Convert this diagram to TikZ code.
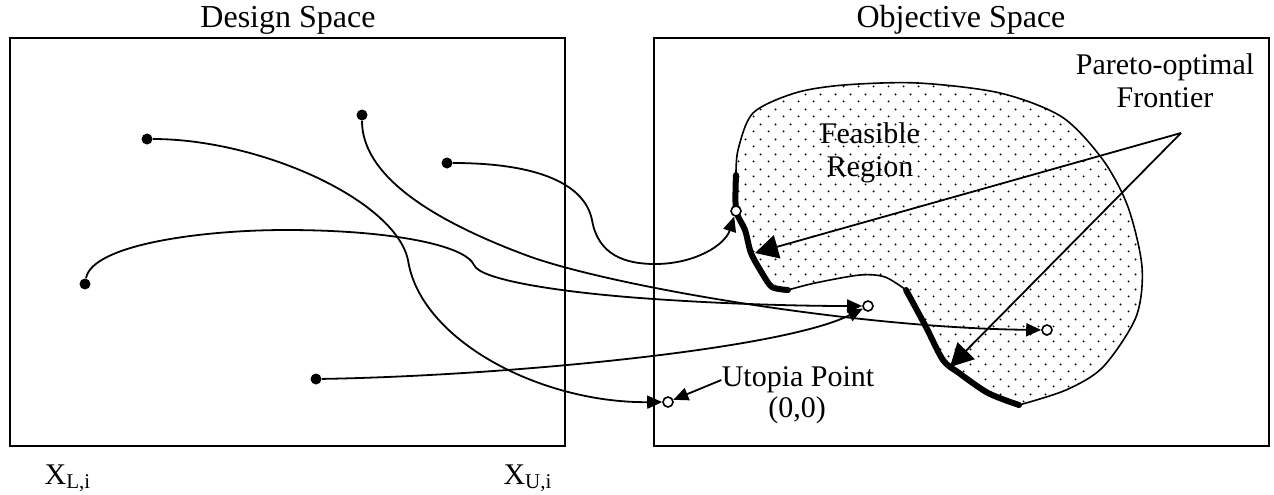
\documentclass[tikz,border=0pt]{standalone}
\usepackage{fontspec}
\setmainfont{Liberation Serif}
\usetikzlibrary{arrows.meta,patterns}
\pgfdeclarepatternformonly{feasdots}{\pgfqpoint{0pt}{0pt}}{\pgfqpoint{7.5pt}{7.5pt}}{\pgfqpoint{7.5pt}{7.5pt}}{%
  \pgfpathcircle{\pgfqpoint{1.9pt}{1.9pt}}{0.55pt}%
  \pgfpathcircle{\pgfqpoint{5.6pt}{5.6pt}}{0.55pt}%
  \pgfusepath{fill}}
\tikzset{
  >={Triangle[length=7.5pt,width=6.5pt]},
  spacebox/.style={draw, line width=1.2pt},
  lbl/.style={font=\fontsize{15}{16.5}\selectfont, align=center, inner sep=0pt},
  ttl/.style={font=\fontsize{16}{18}\selectfont, inner sep=0pt},
  dot/.style={circle, fill, inner sep=0pt, minimum size=5.5pt},
  hole/.style={circle, draw, fill=white, line width=0.8pt, inner sep=0pt, minimum size=5pt},
  flow/.style={->, line width=0.9pt},
  pareto/.style={-{Triangle[length=11.5pt,width=12pt]}, line width=0.9pt},
  front/.style={line width=3pt, line cap=round, line join=round},
  rim/.style={line width=0.8pt},
}

\begin{document}
\begin{tikzpicture}[x=0.5pt,y=-0.5pt]
  \useasboundingbox (0,0) rectangle (1274,494);

  % the two spaces
  \draw[spacebox] (10,38) rectangle (565,446);
  \draw[spacebox] (654,38) rectangle (1269,446);
  \node[ttl] (dsp) at (288,20) {Design Space};
  \node[ttl] (osp) at (961,20) {Objective Space};
  \node[lbl] (xl) at (68,478) {X\textsubscript{L,i}};
  \node[lbl] (xu) at (528,478) {X\textsubscript{U,i}};

  % feasible region
  \path[pattern=feasdots]
    plot[smooth] coordinates {(736,177) (738,150) (753,113) (795,93) (844,85) (918,83) (1000,93) (1062,117) (1103,160) (1128,207) (1142,267) (1136,317) (1103,367) (1066,390) (1019,405)}
    -- plot[smooth] coordinates {(1019,405) (988,393) (959,373) (943,360) (926,327) (906,290)}
    -- plot[smooth] coordinates {(906,290) (885,277) (860,275) (815,283) (788,290)}
    -- plot[smooth] coordinates {(788,290) (772,287) (762,273) (751,253) (745,230) (736,210) (736,177)} -- cycle;
  \draw[rim] plot[smooth] coordinates {(736,177) (738,150) (753,113) (795,93) (844,85) (918,83) (1000,93) (1062,117) (1103,160) (1128,207) (1142,267) (1136,317) (1103,367) (1066,390) (1019,405)};
  \draw[rim] plot[smooth] coordinates {(906,290) (885,277) (860,275) (815,283) (788,290)};
  \draw[front] plot[smooth] coordinates {(1019,405) (988,393) (959,373) (943,360) (926,327) (906,290)};
  \draw[front] plot[smooth] coordinates {(788,290) (772,287) (762,273) (751,253) (745,230) (736,210) (736,175)};
  \node[lbl] (feas) at (870,153) {Feasible\\Region};

  % design points and their images
  \node[dot] (d1) at (147,139) {};
  \node[dot] (d2) at (362,115) {};
  \node[dot] (d3) at (447,163) {};
  \node[dot] (d4) at (85,284) {};
  \node[dot] (d5) at (316,379) {};
  \node[hole] (o1) at (736,211) {};
  \node[hole] (o2) at (868,306) {};
  \node[hole] (o3) at (1047,330) {};
  \node[hole] (o4) at (668,402) {};

  \draw[flow] (d3) .. controls (540,163) and (585,185) .. (592,220)
    .. controls (598,255) and (625,264) .. (655,264)
    .. controls (695,264) and (725,245) .. (o1);
  \draw[flow] (d2) .. controls (362,175) and (430,220) .. (531,257)
    .. controls (620,288) and (860,328) .. (o3);
  \draw[flow] (d1) .. controls (260,139) and (395,200) .. (408,260)
    .. controls (420,340) and (540,403) .. (o4);
  \draw[flow] (d5) .. controls (500,376) and (780,350) .. (o2);
  \draw[flow] (d4) .. controls (92,245) and (200,230) .. (286,230)
    .. controls (390,230) and (465,245) .. (474,265)
    .. controls (480,280) and (560,292) .. (640,298)
    .. controls (720,304) and (800,306) .. (o2);

  % pareto frontier callout
  \node[lbl] (pof) at (1165,81) {Pareto-optimal\\Frontier};
  \coordinate (pf) at (1181,133);
  \coordinate (pf1) at (755,253);
  \coordinate (pf2) at (950,367);
  \draw[pareto] (pf) -- (pf1);
  \draw[pareto] (pf) -- (pf2);

  % utopia point
  \node[lbl] (ut) at (798,380) {Utopia Point};
  \node[lbl] (utc) at (797,410) {(0,0)};
  \draw[flow] (ut.west) -- (o4);
\end{tikzpicture}
\end{document}
